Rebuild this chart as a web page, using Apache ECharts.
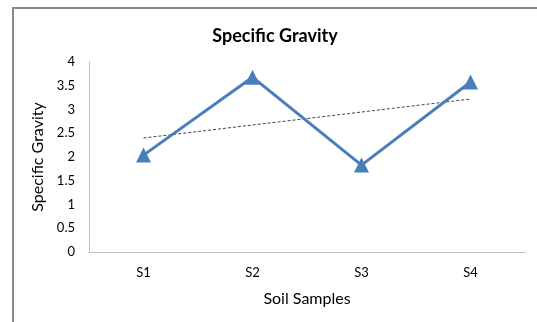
<!DOCTYPE html>
<html>
<head>
<meta charset="utf-8">
<script src="https://cdn.jsdelivr.net/npm/echarts@6/dist/echarts.min.js"></script>
<style>
html,body{margin:0;padding:0;background:#fff;}
#c{width:537px;height:322px;}
</style>
</head>
<body>
<div id="c"></div>
<script>
const categories = ['S1', 'S2', 'S3', 'S4'];
const specificGravity = [2.04, 3.68, 1.83, 3.58];
const trendline = [2.4, null, null, 3.22];
const yTicks = { min: 0, max: 4, interval: 0.5 };

const chart = echarts.init(document.getElementById('c'));
const font = 'Lato, "Open Sans", sans-serif';
chart.setOption({
  animation: false,
  backgroundColor: '#fff',
  graphic: [
    { type: 'line', shape: { x1: 13, y1: 7, x2: 13, y2: 322 }, style: { stroke: '#8a8a8a', lineWidth: 2 } },
    { type: 'line', shape: { x1: 12, y1: 8, x2: 537, y2: 8 }, style: { stroke: '#8a8a8a', lineWidth: 2 } }
  ],
  title: {
    text: 'Specific Gravity',
    left: 270, top: 22, textAlign: 'center',
    textStyle: { fontFamily: font, fontWeight: 'bold', fontSize: 18, color: '#000' }
  },
  grid: { left: 89, right: 12, top: 62, bottom: 70, containLabel: false },
  xAxis: {
    type: 'category',
    data: categories,
    boundaryGap: true,
    name: 'Soil Samples',
    nameLocation: 'middle',
    nameGap: 39,
    nameTextStyle: { fontFamily: font, fontSize: 16, color: '#000' },
    axisLine: { lineStyle: { color: '#bfbfbf', width: 1 } },
    axisTick: { show: false },
    axisLabel: { fontFamily: font, fontSize: 13, color: '#000', margin: 14 },
    splitLine: { show: false }
  },
  yAxis: {
    type: 'value',
    min: yTicks.min, max: yTicks.max, interval: yTicks.interval,
    name: 'Specific Gravity',
    nameLocation: 'middle',
    nameGap: 40,
    nameTextStyle: { fontFamily: font, fontSize: 16, color: '#000' },
    axisLine: { show: true, lineStyle: { color: '#bfbfbf', width: 1 } },
    axisTick: { show: false },
    axisLabel: { fontFamily: font, fontSize: 13, color: '#000', margin: 14 },
    splitLine: { show: false }
  },
  series: [
    {
      type: 'line',
      data: specificGravity,
      symbol: 'triangle',
      symbolSize: 15,
      lineStyle: { color: '#4a7ebb', width: 3 },
      itemStyle: { color: '#4a7ebb' },
      z: 3
    },
    {
      type: 'line',
      data: trendline,
      connectNulls: true,
      symbol: 'none',
      lineStyle: { color: '#444', width: 1, type: [3, 2] },
      z: 2
    }
  ]
});
</script>
</body>
</html>
